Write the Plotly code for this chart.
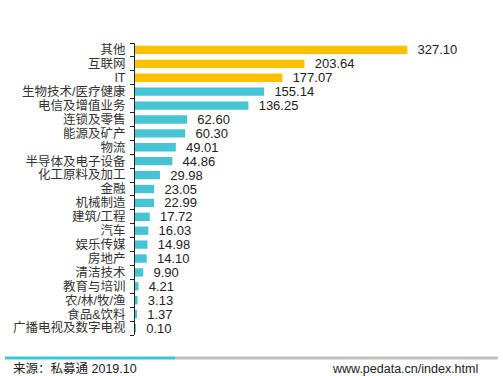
import plotly.graph_objects as go

categories = ["其他", "互联网", "IT", "生物技术/医疗健康", "电信及增值业务", "连锁及零售", "能源及矿产",
              "物流", "半导体及电子设备", "化工原料及加工", "金融", "机械制造", "建筑/工程", "汽车",
              "娱乐传媒", "房地产", "清洁技术", "教育与培训", "农/林/牧/渔", "食品&饮料", "广播电视及数字电视"]
values = [327.10, 203.64, 177.07, 155.14, 136.25, 62.60, 60.30, 49.01, 44.86, 29.98, 23.05, 22.99,
          17.72, 16.03, 14.98, 14.10, 9.90, 4.21, 3.13, 1.37, 0.10]
highlight_count = 3

ORANGE = "#FFC000"
TEAL = "#46C4D4"
colors = [ORANGE if i < highlight_count else TEAL for i in range(len(values))]

FONT = "Arial, 'Liberation Sans', 'Noto Sans CJK SC', sans-serif"

fig = go.Figure(go.Bar(
    x=values, y=categories, orientation="h",
    marker=dict(color=colors, line=dict(width=0)),
    text=[f"\u00a0\u00a0{v:.2f}" for v in values],
    textposition="outside",
    constraintext="none",
    textfont=dict(size=13, color="#222222", family=FONT),
    cliponaxis=False,
))

fig.update_layout(
    width=503, height=376,
    margin=dict(l=135, r=20, t=43, b=41),
    plot_bgcolor="white", paper_bgcolor="white",
    bargap=0.4,
    showlegend=False,
    font=dict(family=FONT, size=12, color="#333333"),
    xaxis=dict(range=[0, 418], visible=False, showgrid=False),
    yaxis=dict(autorange="reversed", showline=True, linecolor="#222222", linewidth=1,
               tickmode="array", tickvals=categories, ticktext=categories,
               ticks="outside", ticklen=4, tickcolor="#222222", tickson="boundaries",
               tickfont=dict(size=12.5, color="#333333", family=FONT),
               ticklabelstandoff=6, showgrid=False),
    shapes=[
        dict(type="line", xref="paper", yref="paper", x0=-0.3736, x1=0.1149, y0=-0.0788, y1=-0.0788,
             line=dict(color="#3EC6D6", width=3)),
        dict(type="line", xref="paper", yref="paper", x0=0.1149, x1=1.043, y0=-0.0788, y1=-0.0788,
             line=dict(color="#BFBFBF", width=3)),
    ],
    annotations=[
        dict(text="来源：私募通 2019.10", xref="paper", yref="paper", x=-0.355, y=-0.118,
             xanchor="left", yanchor="middle", showarrow=False,
             font=dict(size=12.5, color="#222222", family=FONT)),
        dict(text="www.pedata.cn/index.html", xref="paper", yref="paper", x=0.99, y=-0.118,
             xanchor="right", yanchor="middle", showarrow=False,
             font=dict(size=12.5, color="#222222", family=FONT)),
    ],
)

fig.write_html("out.html")
